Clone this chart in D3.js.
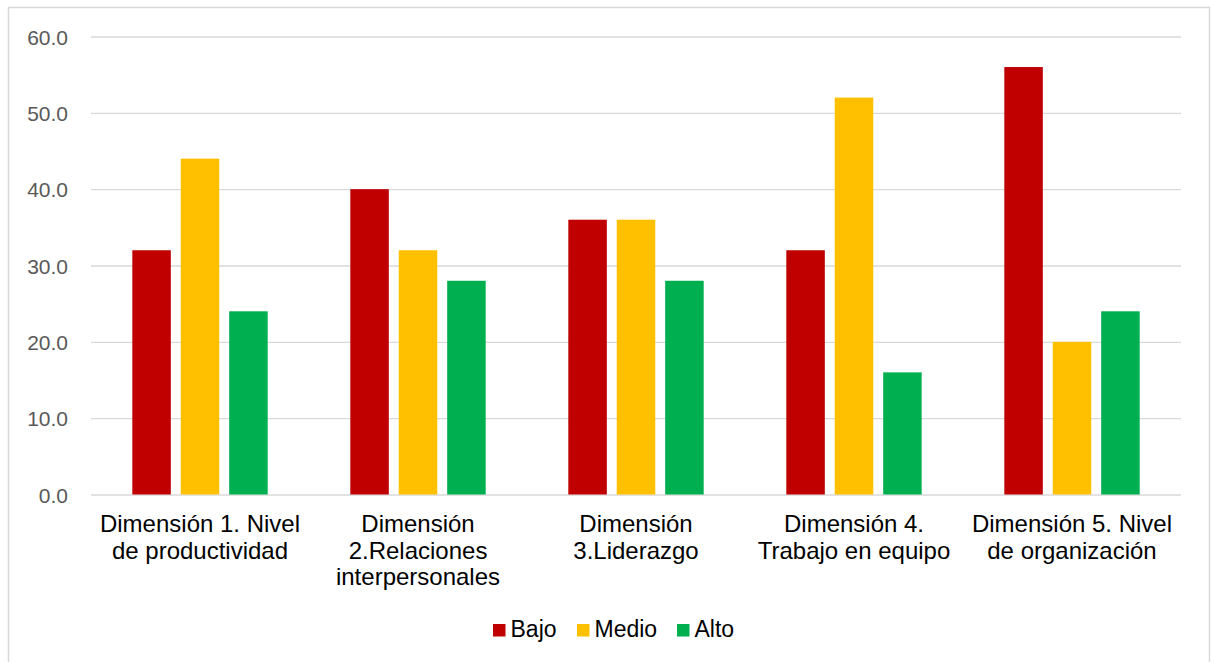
<!DOCTYPE html>
<html>
<head>
<meta charset="utf-8">
<script src="https://cdn.jsdelivr.net/npm/d3@7"></script>
<style>
  html, body { margin: 0; padding: 0; background: #fff; }
  svg { display: block; font-family: "Liberation Sans", Arial, sans-serif; }
</style>
</head>
<body>
<svg id="chart" width="1211" height="662"></svg>
<script>
// Category labels, one entry per line of text
const categories = [
  ["Dimensión 1. Nivel", "de productividad"],
  ["Dimensión", "2.Relaciones", "interpersonales"],
  ["Dimensión", "3.Liderazgo"],
  ["Dimensión 4.", "Trabajo en equipo"],
  ["Dimensión 5. Nivel", "de organización"]
];
const seriesNames = ["Bajo", "Medio", "Alto"];
const bajo  = [32, 40, 36, 32, 56];
const medio = [44, 32, 36, 52, 20];
const alto  = [24, 28, 28, 16, 24];
const yTicks = [0, 10, 20, 30, 40, 50, 60];
const colors = ["#C00000", "#FFC000", "#00B050"];

const seriesValues = [bajo, medio, alto];
const svg = d3.select("#chart");

// Outer chart frame
svg.append("rect")
  .attr("x", 8.5).attr("y", 7.5)
  .attr("width", 1201).attr("height", 680)
  .attr("fill", "#fff").attr("stroke", "#d9d9d9").attr("stroke-width", 1.5);

const plot = { left: 91, right: 1181, top: 36.5, bottom: 494.5 };

const x = d3.scaleBand()
  .domain(d3.range(categories.length))
  .range([plot.left, plot.right]);

const xInner = d3.scaleBand()
  .domain(d3.range(seriesNames.length))
  .range([x.bandwidth() * 0.1895, x.bandwidth() * 0.8105])
  .paddingInner(0.205);

const y = d3.scaleLinear().domain([0, 60]).range([plot.bottom, plot.top]);

// Horizontal gridlines and value labels
const yAxis = d3.axisLeft(y)
  .tickValues(yTicks)
  .tickSize(-(plot.right - plot.left))
  .tickPadding(23)
  .tickFormat(d3.format(".1f"));

const gy = svg.append("g")
  .attr("transform", `translate(${plot.left},0)`)
  .call(yAxis);
gy.select(".domain").remove();
gy.selectAll(".tick line").attr("stroke", "#d9d9d9").attr("stroke-width", 1.3);
gy.selectAll(".tick text")
  .attr("fill", "#595959")
  .style("font-size", "21px")
  .attr("dy", "0.36em");

// Bars
const groups = svg.append("g").selectAll("g")
  .data(categories.map((c, i) => ({ i, values: seriesValues.map(s => s[i]) })))
  .join("g")
  .attr("transform", d => `translate(${x(d.i)},0)`);

groups.selectAll("rect")
  .data(d => d.values.map((v, k) => ({ v, k })))
  .join("rect")
  .attr("x", d => xInner(d.k))
  .attr("width", xInner.bandwidth())
  .attr("y", d => y(d.v))
  .attr("height", d => y(0) - y(d.v))
  .attr("fill", d => colors[d.k]);

// Category labels
const labels = svg.append("g").selectAll("text")
  .data(categories)
  .join("text")
  .attr("text-anchor", "middle")
  .attr("fill", "#000")
  .style("font-size", "24px");
labels.each(function (lines, i) {
  const t = d3.select(this);
  lines.forEach((line, j) => {
    t.append("tspan")
      .attr("x", x(i) + x.bandwidth() / 2)
      .attr("y", 532 + j * 26.5)
      .text(line);
  });
});

// Legend
const legendX = [493, 577, 677];
const legend = svg.append("g").selectAll("g")
  .data(seriesNames)
  .join("g")
  .attr("transform", (d, i) => `translate(${legendX[i]},624)`);
legend.append("rect")
  .attr("width", 12.5).attr("height", 12.5)
  .attr("fill", (d, i) => colors[i]);
legend.append("text")
  .attr("x", 17.5).attr("y", 12.7)
  .style("font-size", "23px")
  .attr("fill", "#000")
  .text(d => d);
</script>
</body>
</html>
